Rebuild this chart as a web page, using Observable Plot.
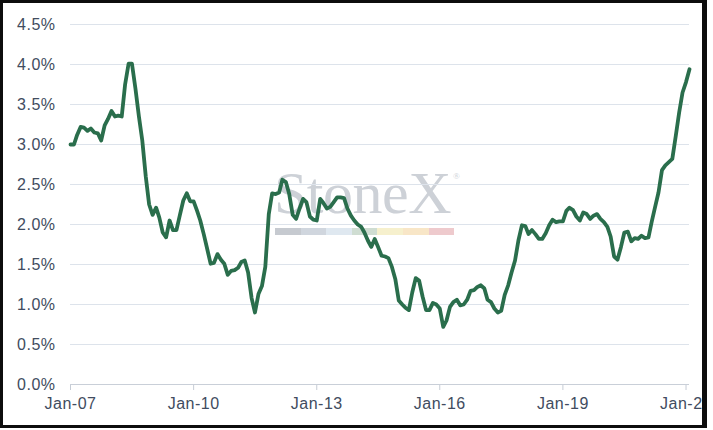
<!DOCTYPE html>
<html>
<head>
<meta charset="utf-8">
<script src="https://cdn.jsdelivr.net/npm/d3@7"></script>
<script src="https://cdn.jsdelivr.net/npm/@observablehq/plot@0.6"></script>
<style>
  html, body { margin: 0; padding: 0; background: #fff; }
  #frame {
    position: absolute; left: 0; top: 0;
    width: 707px; height: 428px; box-sizing: border-box;
    border-style: solid; border-color: #0d0d0d;
    border-width: 3px 5px 3px 3px;
    overflow: hidden; background: #fff;
  }
  #wm { position: absolute; left: 271px; top: 160px; z-index: 0; pointer-events: none; }
  #wm .txt { font-family: "Liberation Serif", "DejaVu Serif", serif; font-size: 60px; line-height: 1; color: #cdd1d7; white-space: nowrap; letter-spacing: -0.5px; }
  #wm .txt sup { font-size: 9px; vertical-align: 34px; margin-left: 2px; }
  #wm .bar { position: absolute; left: 1px; top: 65px; height: 7px; display: flex; }
  #wm .bar div { width: 25.6px; height: 7px; }
  #chart { position: absolute; left: 0; top: 0; z-index: 1; }
  #chart svg text { letter-spacing: 0.5px; }
  #chart svg [aria-label="x-axis"] line,
  #chart svg [aria-label="x-axis tick"] path,
  #chart svg [aria-label="x-axis"] path { stroke: #c6ccd5; }
</style>
</head>
<body>
<div id="frame">
  <div id="wm"><div class="txt">StoneX<sup>®</sup></div><div class="bar" id="wmbar"></div></div>
  <div id="chart"></div>
</div>
<script>
// Monthly values (%), starting Jan 2007
const startYear = 2007;
const rates = [
  3.00, 3.00, 3.12, 3.22, 3.21, 3.17, 3.20, 3.15, 3.14, 3.05, 3.24, 3.32, // 2007
  3.42, 3.35, 3.36, 3.35, 3.75, 4.01, 4.01, 3.70, 3.35, 3.05, 2.60, 2.25, // 2008
  2.12, 2.21, 2.09, 1.90, 1.84, 2.05, 1.93, 1.93, 2.12, 2.30, 2.39, 2.29, // 2009
  2.29, 2.17, 2.05, 1.88, 1.70, 1.51, 1.52, 1.63, 1.56, 1.51, 1.37, 1.42, // 2010
  1.43, 1.46, 1.53, 1.55, 1.40, 1.08, 0.90, 1.13, 1.23, 1.47, 2.13, 2.39, // 2011
  2.38, 2.40, 2.56, 2.53, 2.38, 2.12, 2.07, 2.20, 2.32, 2.28, 2.10, 2.06, // 2012
  2.05, 2.32, 2.27, 2.20, 2.22, 2.28, 2.34, 2.34, 2.33, 2.20, 2.11, 2.05, // 2013
  2.00, 1.97, 1.90, 1.80, 1.72, 1.82, 1.72, 1.61, 1.60, 1.58, 1.47, 1.32, // 2014
  1.05, 1.00, 0.96, 0.93, 1.15, 1.33, 1.30, 1.10, 0.93, 0.93, 1.02, 1.00, // 2015
  0.95, 0.72, 0.80, 0.97, 1.03, 1.06, 0.99, 1.00, 1.06, 1.17, 1.18, 1.22, // 2016
  1.24, 1.20, 1.06, 1.03, 0.95, 0.90, 0.92, 1.12, 1.24, 1.40, 1.55, 1.80, // 2017
  1.99, 1.98, 1.88, 1.93, 1.88, 1.82, 1.82, 1.89, 1.99, 2.06, 2.03, 2.04, // 2018
  2.04, 2.17, 2.21, 2.18, 2.10, 2.05, 2.15, 2.13, 2.07, 2.11, 2.13, 2.07, // 2019
  2.03, 1.97, 1.85, 1.60, 1.56, 1.72, 1.90, 1.91, 1.79, 1.83, 1.82, 1.86, // 2020
  1.83, 1.84, 2.03, 2.22, 2.40, 2.68, 2.74, 2.78, 2.82, 3.10, 3.40, 3.65, // 2021
  3.78, 3.94                                                              // 2022
];
const yTicks = [0, 0.5, 1, 1.5, 2, 2.5, 3, 3.5, 4, 4.5];
const xTickYears = [2007, 2010, 2013, 2016, 2019, 2022];
const xTickLabels = ["Jan-07", "Jan-10", "Jan-13", "Jan-16", "Jan-19", "Jan-22"];
const watermarkColors = ["#c6cad0", "#d0d6de", "#dfe8f0", "#cfddd2", "#f6f0cd", "#f8e6c7", "#eecacd"];

const data = rates.map((v, i) => ({ date: new Date(Date.UTC(startYear, i, 1)), value: v }));
const xTicks = xTickYears.map(y => new Date(Date.UTC(y, 0, 1)));

const bar = document.getElementById("wmbar");
watermarkColors.forEach(c => { const d = document.createElement("div"); d.style.background = c; bar.appendChild(d); });

const chart = Plot.plot({
  width: 699,
  height: 422,
  marginLeft: 67,
  marginRight: 13,
  marginTop: 21,
  marginBottom: 41,
  style: { background: "transparent", fontFamily: "'Liberation Sans', Arial, sans-serif", fontSize: "16px", color: "#414c60" },
  x: {
    type: "utc",
    domain: [data[0].date, data[data.length - 1].date],
    ticks: xTicks,
    tickFormat: d => xTickLabels[xTicks.findIndex(t => +t === +d)],
    tickSize: 6,
    tickPadding: 7,
    label: null
  },
  y: {
    domain: [0, 4.5],
    ticks: yTicks,
    tickFormat: d => d.toFixed(1) + "%",
    tickSize: 0,
    tickPadding: 15,
    label: null
  },
  marks: [
    Plot.ruleY(yTicks.filter(d => d > 0), { stroke: "#dde3eb", strokeWidth: 1.2 }),
    Plot.ruleY([0], { stroke: "#c9cfd8", strokeWidth: 1.2 }),
    Plot.line(data, { x: "date", y: "value", stroke: "#2a6e4c", strokeWidth: 3.8, strokeLinejoin: "round", strokeLinecap: "round" })
  ]
});
document.getElementById("chart").appendChild(chart);
</script>
</body>
</html>
